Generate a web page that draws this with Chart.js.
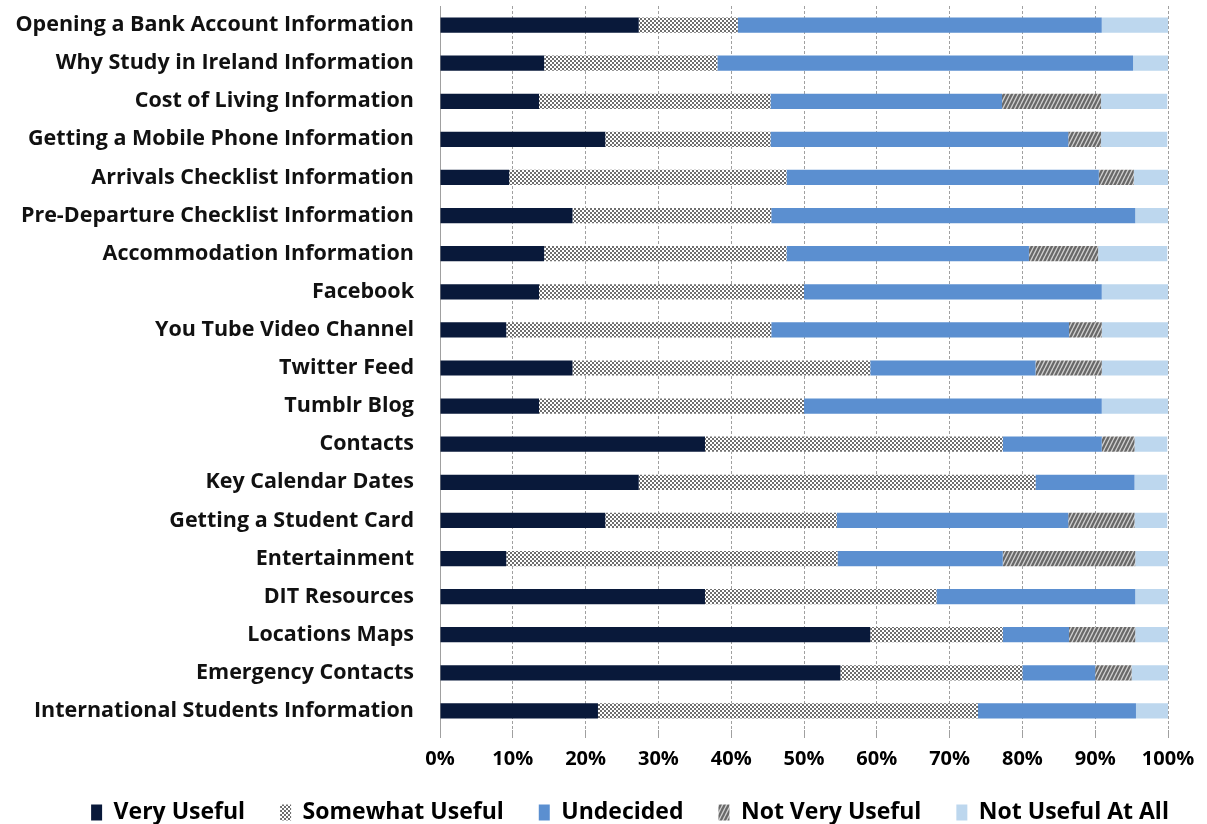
<!DOCTYPE html>
<html>
<head>
<meta charset="utf-8">
<script src="https://cdn.jsdelivr.net/npm/chart.js"></script>
<style>
  html, body { margin: 0; padding: 0; background: #fff; }
</style>
</head>
<body>
<canvas id="chart" width="1207" height="824"></canvas>
<script>
// survey items, top to bottom
const categories = [
  'Opening a Bank Account Information',
  'Why Study in Ireland Information',
  'Cost of Living Information',
  'Getting a Mobile Phone Information',
  'Arrivals Checklist Information',
  'Pre-Departure Checklist Information',
  'Accommodation Information',
  'Facebook',
  'You Tube Video Channel',
  'Twitter Feed',
  'Tumblr Blog',
  'Contacts',
  'Key Calendar Dates',
  'Getting a Student Card',
  'Entertainment',
  'DIT Resources',
  'Locations Maps',
  'Emergency Contacts',
  'International Students Information'
];

// share of answers per item, in %
const veryUseful      = [27.3, 14.3, 13.6, 22.7,  9.5, 18.2, 14.3, 13.6,  9.1, 18.2, 13.6, 36.4, 27.3, 22.7,  9.1, 36.4, 59.1, 55.0, 21.7];
const somewhatUseful  = [13.6, 23.8, 31.8, 22.7, 38.1, 27.3, 33.3, 36.4, 36.4, 40.9, 36.4, 40.9, 54.5, 31.8, 45.5, 31.8, 18.2, 25.0, 52.2];
const undecided       = [50.0, 57.1, 31.8, 40.9, 42.9, 50.0, 33.3, 40.9, 40.9, 22.7, 40.9, 13.6, 13.6, 31.8, 22.7, 27.3,  9.1, 10.0, 21.7];
const notVeryUseful   = [ 0.0,  0.0, 13.6,  4.5,  4.8,  0.0,  9.5,  0.0,  4.5,  9.1,  0.0,  4.5,  0.0,  9.1, 18.2,  0.0,  9.1,  5.0,  0.0];
const notUsefulAtAll  = [ 9.1,  4.8,  9.1,  9.1,  4.8,  4.5,  9.5,  9.1,  9.1,  9.1,  9.1,  4.5,  4.5,  4.5,  4.5,  4.5,  4.5,  5.0,  4.4];

const tickLabels = ['0%', '10%', '20%', '30%', '40%', '50%', '60%', '70%', '80%', '90%', '100%'];

const FONT = "'Open Sans', 'DejaVu Sans', sans-serif";

// grey/white checker used for "Somewhat Useful"
function checkerPattern() {
  const c = document.createElement('canvas');
  c.width = 4; c.height = 4;
  const g = c.getContext('2d');
  g.fillStyle = '#6e6e6e';
  g.fillRect(0, 0, 4, 4);
  g.fillStyle = '#ffffff';
  g.fillRect(0, 0, 2, 2);
  g.fillRect(2, 2, 2, 2);
  return g.createPattern(c, 'repeat');
}

// dark grey with light upward streaks for "Not Very Useful"
function streakPattern() {
  const c = document.createElement('canvas');
  c.width = 8; c.height = 8;
  const g = c.getContext('2d');
  g.fillStyle = '#686868';
  g.fillRect(0, 0, 8, 8);
  g.strokeStyle = '#cfcfcf';
  g.lineWidth = 1.4;
  g.beginPath();
  g.moveTo(1, 8); g.lineTo(5, 0);
  g.moveTo(5, 8); g.lineTo(9, 0);
  g.moveTo(-3, 8); g.lineTo(1, 0);
  g.stroke();
  return g.createPattern(c, 'repeat');
}

function series(label, data, color) {
  return {
    label: label,
    data: data,
    backgroundColor: color,
    borderWidth: 0,
    barPercentage: 0.4,
    categoryPercentage: 1.0
  };
}

// put the legend row centred under the whole figure, a bit lower
const legendPlacement = {
  id: 'legendPlacement',
  afterLayout(chart) {
    const lg = chart.legend;
    const shift = 630 - (lg.left + lg.right) / 2;
    lg.left += shift;
    lg.right += shift;
    const h = lg.height;
    lg.top = 766;
    lg.bottom = lg.top + h;
  }
};

new Chart(document.getElementById('chart'), {
  type: 'bar',
  data: {
    labels: categories,
    datasets: [
      series('Very Useful', veryUseful, '#09193a'),
      series('Somewhat Useful', somewhatUseful, checkerPattern()),
      series('Undecided', undecided, '#5b8fd0'),
      series('Not Very Useful', notVeryUseful, streakPattern()),
      series('Not Useful At All', notUsefulAtAll, '#bdd7ee')
    ]
  },
  plugins: [legendPlacement],
  options: {
    indexAxis: 'y',
    responsive: false,
    animation: false,
    devicePixelRatio: 1,
    layout: { padding: { left: 0, right: 39, top: 6, bottom: -24 } },
    scales: {
      x: {
        stacked: true,
        min: 0,
        max: 100,
        ticks: {
          stepSize: 10,
          padding: 9,
          color: '#000',
          font: { family: FONT, size: 20, weight: 'bold' },
          callback: (v) => tickLabels[Math.round(v / 10)]
        },
        grid: { color: '#a0a0a0', lineWidth: 1, tickLength: 8, tickBorderDash: [] },
        border: { display: false, dash: [3, 2] }
      },
      y: {
        stacked: true,
        afterFit: (scale) => {
          scale.width = 440;
          scale.paddingTop = 0;
          scale.paddingBottom = 0;
        },
        ticks: {
          padding: 18,
          color: '#111',
          font: { family: FONT, size: 21.5, weight: 'bold' }
        },
        grid: { display: false },
        border: { display: true, color: '#a0a0a0', width: 1 }
      }
    },
    plugins: {
      tooltip: { enabled: false },
      legend: {
        position: 'bottom',
        labels: {
          boxWidth: 11,
          boxHeight: 16,
          padding: 35,
          color: '#000',
          font: { family: FONT, size: 23, weight: 'bold' }
        }
      }
    }
  }
});
</script>
</body>
</html>
